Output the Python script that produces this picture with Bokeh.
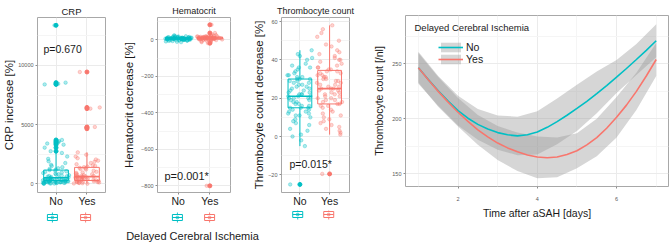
from bokeh.plotting import figure
from bokeh.layouts import row, column
from bokeh.models import ColumnDataSource, FixedTicker, Label, Legend, LegendItem, Range1d
from bokeh.transform import jitter, dodge
from bokeh.embed import file_html
from bokeh.resources import INLINE

FONT = "Liberation Sans"
TEAL = "#00BFC4"
SALMON = "#F8766D"
GRID = "#EBEBEB"
GRID_MINOR = "#F5F5F5"
BORDER = "#A8A8A8"
TICK = "#8C8C8C"
TICKLAB = "#5A5A5A"

groups = ["No", "Yes"]
group_pos = [1, 2]
group_colors = [TEAL, SALMON]

# ---------- CRP increase [%] ----------
crp_no = [13400, 8550, 8450, 8400, 3700, 3600, 3500, 3400, 3300, 3050, 2750, 2600, 2300, 2100,
          1900, 1750, 1600, 1500, 1400, 1300, 1250, 1200, 1150, 1100, 1050, 1000, 950, 900, 850,
          800, 760, 720, 680, 650, 620, 590, 560, 530, 500, 480, 460, 440, 420, 400, 380, 360,
          340, 330, 320, 310, 300, 290, 280, 270, 260, 250, 240, 230, 220, 210, 200, 190, 180,
          170, 160, 150, 140, 130, 120, 110, 100, 90, 80, 70, 60, 50, 40, 30, 20, 10, 0, 0]
crp_yes = [9450, 6450, 6350, 4800, 4750, 4650, 2650, 2450, 2300, 2150, 2050, 1950, 1850, 1750,
           1650, 1550, 1500, 1450, 1400, 1350, 1300, 1250, 1200, 1100, 1000, 950, 900, 850, 800,
           760, 720, 680, 650, 620, 600, 580, 560, 540, 520, 500, 480, 450, 420, 400, 380, 350,
           330, 300, 280, 260, 240, 220, 200, 180, 160, 140, 120, 100, 80, 60, 40, 20, 0]
# box stats: [lower whisker, q1, median, q3, upper whisker]
crp_box_no = [0, 270, 500, 1150, 2600]
crp_box_yes = [0, 270, 600, 1380, 2650]
crp_p = "p=0.670"

# ---------- Hematocrit decrease [%] ----------
hema_no = [25, 22, 20, 19, 18, 17, 16, 15, 15, 14, 14, 13, 13, 12, 12, 12, 11, 11, 11, 10, 10,
           10, 10, 9, 9, 9, 9, 8, 8, 8, 8, 8, 7, 7, 7, 7, 6, 6, 6, 6, 5, 5, 5, 5, 4, 4, 4, 3, 3,
           3, 2, 2, 2, 1, 1, 0, 0, -1, -2, -3, -4, -5, -6, -8, -10, -12]
hema_yes = [83, 38, 30, 27, 25, 23, 22, 21, 20, 19, 18, 17, 17, 16, 16, 15, 15, 14, 14, 13, 13,
            12, 12, 12, 11, 11, 11, 10, 10, 10, 10, 9, 9, 9, 8, 8, 8, 7, 7, 7, 6, 6, 5, 5, 4, 4,
            3, 3, 2, 1, 0, -1, -3, -5, -8, -10, -12, -18, -800]
hema_box_no = [-12, 3, 8, 12, 25]
hema_box_yes = [-12, 5, 11, 16, 30]
hema_p = "p=0.001*"

# ---------- Thrombocyte count decrease [%] ----------
thr_no = [45, 43, 42, 41, 40, 38, 37, 36, 36, 35, 34, 33, 32, 32, 31, 31, 30, 30, 30, 29, 29,
          28, 28, 27, 27, 26, 26, 25, 25, 24, 24, 23, 23, 22, 22, 22, 21, 21, 21, 20, 20, 20, 19,
          19, 18, 18, 17, 17, 16, 16, 15, 15, 15, 14, 14, 13, 13, 12, 12, 11, 11, 10, 9, 8, 7, 6,
          4, 3, 1, 0, -2, -5, -25]
thr_yes = [58, 56, 54, 52, 50, 48, 47, 45, 44, 43, 42, 41, 40, 40, 39, 38, 37, 36, 36, 35, 35,
           34, 34, 33, 33, 32, 32, 31, 31, 30, 30, 29, 29, 28, 28, 27, 27, 26, 26, 25, 25, 25, 24,
           24, 23, 23, 22, 22, 21, 21, 20, 20, 19, 19, 18, 18, 17, 17, 16, 16, 15, 14, 13, 12, 11,
           10, 9, 8, 7, 6, 5, 4, 3, 2, 1, -19.5]
thr_box_no = [-5, 15, 21, 30, 45]
thr_box_yes = [1, 17, 25, 34.5, 58]
thr_p = "p=0.015*"

# ---------- Thrombocyte count over time (loess fits) ----------
fit_days = [1, 1.25, 1.5, 1.75, 2, 2.25, 2.5, 2.75, 3, 3.25, 3.5, 3.75, 4, 4.25, 4.5, 4.75,
            5, 5.25, 5.5, 5.75, 6, 6.25, 6.5, 6.75, 7]
no_fit = [246.5, 235.7, 225.5, 216.1, 207.5, 200.6, 195, 190.8, 187.5, 185.5, 184.5, 185.6,
          188, 192.3, 197.5, 203.3, 209.5, 216, 223, 230.3, 238, 245.8, 254, 262.3, 271]
yes_fit = [246.5, 235.5, 225, 215.2, 206, 197.7, 190, 183.6, 178, 173.6, 170, 167.2, 165.3,
           164.6, 165.3, 167.6, 171, 176.4, 183, 191.5, 201.5, 212.5, 225, 239, 254]
band_days = [1, 1.5, 2, 2.5, 3, 3.5, 4, 4.5, 5, 5.5, 6, 6.5, 7]
no_lo = [232, 212, 194, 181, 172, 167, 167.5, 177, 189, 205, 223.5, 240, 256]
no_hi = [261, 239, 221, 209, 203, 202, 207, 218.5, 231, 243, 253.5, 268, 286]
yes_lo = [233, 211, 193, 176.5, 162.5, 152.5, 146, 147, 155, 166, 183, 208, 239]
yes_hi = [260, 238, 219, 203.5, 193.5, 187.5, 184, 183, 187, 200, 220, 242, 269]


def base_style(p):
    p.outline_line_color = BORDER
    p.outline_line_width = 1
    p.background_fill_color = "white"
    p.border_fill_color = "white"
    for ax in p.axis:
        ax.axis_line_color = None
        ax.major_tick_line_color = TICK
        ax.major_tick_out = 2
        ax.major_tick_in = 0
        ax.minor_tick_line_color = None
        ax.major_label_text_font = FONT
        ax.axis_label_text_font = FONT
        ax.axis_label_text_font_style = "normal"
        ax.axis_label_text_color = "#1A1A1A"
    p.xgrid.grid_line_color = GRID
    p.ygrid.grid_line_color = GRID
    p.ygrid.minor_grid_line_color = GRID_MINOR


def box_panel(W, bl, br, bt, bb, xr, yr, yticks, yminor, ylabel, ylab_standoff,
              title, title_size, title_offset, title_standoff, ptext, p_x, p_y, p_size,
              series, stats, key_y, jit_w):
    x_range = Range1d(*xr)
    p = figure(width=W, height=210, x_range=x_range, y_range=Range1d(*yr),
               output_backend="svg", toolbar_location=None,
               min_border_left=bl, min_border_right=br, min_border_top=bt, min_border_bottom=bb)
    base_style(p)
    p.title.text = title
    p.title.text_font = FONT
    p.title.text_font_size = title_size
    p.title.text_font_style = "normal"
    p.title.text_color = "#1A1A1A"
    p.title.align = "center"
    p.title.offset = title_offset
    p.title.standoff = title_standoff

    p.xgrid.ticker = FixedTicker(ticks=group_pos)
    p.ygrid.ticker = FixedTicker(ticks=yticks, minor_ticks=yminor)
    p.xaxis.ticker = FixedTicker(ticks=group_pos)
    p.xaxis.major_label_overrides = {pos: name for pos, name in zip(group_pos, groups)}
    p.xaxis.major_label_text_font_size = "10.5px"
    p.xaxis.major_label_text_color = "#1A1A1A"
    p.xaxis.major_label_standoff = 0
    p.yaxis.ticker = FixedTicker(ticks=yticks)
    p.yaxis.major_label_text_font_size = "5.5px"
    p.yaxis.major_label_text_color = TICKLAB
    p.yaxis.major_label_standoff = 2
    p.yaxis.axis_label = ylabel
    p.yaxis.axis_label_text_font_size = "11.5px"
    p.yaxis.axis_label_standoff = ylab_standoff

    # legend-key strip (box keys for No / Yes) under the panel
    k = figure(width=W, height=14, x_range=x_range, y_range=Range1d(0, 14),
               output_backend="svg", toolbar_location=None,
               x_axis_location=None, y_axis_location=None,
               min_border_left=bl, min_border_right=br, min_border_top=0, min_border_bottom=0)
    k.outline_line_color = None
    k.grid.visible = False
    k.background_fill_color = "white"
    k.border_fill_color = "white"

    for pos, vals, st, col in zip(group_pos, series, stats, group_colors):
        lo, q1, med, q3, hi = st
        bsrc = ColumnDataSource(dict(x=[pos], lo=[lo], q1=[q1], med=[med], q3=[q3], hi=[hi]))
        p.segment(x0="x", y0="q3", x1="x", y1="hi", source=bsrc, line_color=col, line_width=1)
        p.segment(x0="x", y0="lo", x1="x", y1="q1", source=bsrc, line_color=col, line_width=1)
        p.vbar(x="x", width=0.8, bottom="q1", top="q3", source=bsrc,
               fill_color=None, line_color=col, line_width=1)
        p.segment(x0=dodge("x", -0.4), y0="med", x1=dodge("x", 0.4), y1="med",
                  source=bsrc, line_color=col, line_width=1.6)
        out = [v for v in vals if v < lo or v > hi]
        osrc = ColumnDataSource(dict(x=[pos] * len(out), y=out))
        p.scatter("x", "y", source=osrc, size=4, color=col)
        jsrc = ColumnDataSource(dict(x=[pos] * len(vals), y=vals))
        p.scatter(x=jitter("x", width=jit_w), y="y", source=jsrc, size=3.5,
                  fill_color=col, line_color=col, fill_alpha=0.32, line_alpha=0.32)

        ksrc = ColumnDataSource(dict(x=[pos], y=[key_y]))
        k.rect(x="x", y="y", width=1, height=10, width_units="screen", height_units="screen",
               source=ksrc, fill_color=col, line_color=None, fill_alpha=0.9)
        k.rect(x="x", y="y", width=10, height=6, width_units="screen", height_units="screen",
               source=ksrc, fill_color="white", line_color=col, line_width=1)
        k.rect(x="x", y="y", width=10, height=1.2, width_units="screen", height_units="screen",
               source=ksrc, fill_color=col, line_color=None)
        k.scatter(x="x", y="y", source=ksrc, size=3, fill_color=col, line_color=col,
                  fill_alpha=0.5, line_alpha=0.5)

    p.add_layout(Label(x=p_x, y=p_y, x_units="screen", y_units="screen", text=ptext,
                       text_font=FONT, text_font_size=p_size, text_color="#1A1A1A",
                       text_align="left", text_baseline="middle"))
    return p, k


f1, k1 = box_panel(120, 32, 15, 15, 16, (0.4, 2.6), (-746, 14061), [0, 5000, 10000],
                   [2500, 7500, 12500], "CRP increase [%]", 0,
                   "CRP", "9.5px", 1.5, 2, crp_p, 6, 144, "10.5px",
                   [crp_no, crp_yes], [crp_box_no, crp_box_yes], 7, 0.85)

f2, k2 = box_panel(130, 36, 20, 17, 17, (0.35, 2.65), (-836.6, 123),
                   [-800, -600, -400, -200, 0], [-700, -500, -300, -100, 100],
                   "Hematocrit decrease [%]", 3,
                   "Hematocrit", "9px", 0, 4, hema_p, 7, 17, "11px",
                   [hema_no, hema_yes], [hema_box_no, hema_box_yes], 7, 0.85)

f3, k3 = box_panel(120, 28, 21, 17, 18, (0.38, 2.67), (-29.2, 62.1),
                   [-20, 0, 20, 40, 60], [-10, 10, 30, 50],
                   "Thrombocyte count decrease [%]", 0,
                   "Thrombocyte count", "9px", -3, 4, thr_p, 8, 29, "10.5px",
                   [thr_no, thr_yes], [thr_box_no, thr_box_yes], 10, 0.85)

# bottom shared caption strip
f5 = figure(width=370, height=20, x_range=Range1d(0, 1), y_range=Range1d(0, 1),
            output_backend="svg", toolbar_location=None,
            x_axis_location=None, y_axis_location=None,
            min_border_left=0, min_border_right=0, min_border_top=0, min_border_bottom=0)
f5.outline_line_color = None
f5.grid.visible = False
f5.add_layout(Label(x=192, y=9, x_units="screen", y_units="screen",
                    text="Delayed Cerebral Ischemia", text_font=FONT,
                    text_font_size="11px", text_color="#1A1A1A",
                    text_align="center", text_baseline="middle"))

# ---------- right panel ----------
f4 = figure(width=299, height=244, x_range=Range1d(0.675, 7.31), y_range=Range1d(138.5, 294),
            output_backend="svg", toolbar_location=None,
            min_border_left=33, min_border_right=1, min_border_top=15, min_border_bottom=58)
base_style(f4)
f4.xgrid.ticker = FixedTicker(ticks=[2, 4, 6], minor_ticks=[1, 3, 5, 7])
f4.xgrid.minor_grid_line_color = GRID_MINOR
f4.ygrid.ticker = FixedTicker(ticks=[150, 200, 250], minor_ticks=[175, 225, 275])
f4.xaxis.ticker = FixedTicker(ticks=[2, 4, 6])
f4.yaxis.ticker = FixedTicker(ticks=[150, 200, 250])
for ax in f4.axis:
    ax.major_label_text_font_size = "5.5px"
    ax.major_label_text_color = TICKLAB
    ax.axis_label_text_font_size = "10.5px"
f4.xaxis.major_label_standoff = 8
f4.xaxis.axis_label = "Time after aSAH [days]"
f4.xaxis.axis_label_standoff = 3
f4.yaxis.major_label_standoff = 2
f4.yaxis.axis_label = "Thrombocyte count [/nl]"
f4.yaxis.axis_label_standoff = 4

band_no = ColumnDataSource(dict(x=band_days, lo=no_lo, hi=no_hi))
band_yes = ColumnDataSource(dict(x=band_days, lo=yes_lo, hi=yes_hi))
fit_src = ColumnDataSource(dict(x=fit_days, no=no_fit, yes=yes_fit))
b_no = f4.varea(x="x", y1="lo", y2="hi", source=band_no, fill_color="#999999", fill_alpha=0.4)
b_yes = f4.varea(x="x", y1="lo", y2="hi", source=band_yes, fill_color="#999999", fill_alpha=0.4)
l_no = f4.line("x", "no", source=fit_src, line_color=TEAL, line_width=1.6)
l_yes = f4.line("x", "yes", source=fit_src, line_color=SALMON, line_width=1.6)

leg4 = Legend(items=[LegendItem(label=groups[0], renderers=[b_no, l_no]),
                     LegendItem(label=groups[1], renderers=[b_yes, l_yes])],
              location=(33, 121), orientation="vertical",
              glyph_width=25, glyph_height=12, label_standoff=3, label_height=0,
              spacing=0, padding=0, margin=0,
              background_fill_alpha=0, border_line_alpha=0,
              label_text_font=FONT, label_text_font_size="10.5px", label_text_color="#1A1A1A")
f4.add_layout(leg4)
f4.add_layout(Label(x=9, y=159, x_units="screen", y_units="screen",
                    text="Delayed Cerebral Ischemia", text_font=FONT,
                    text_font_size="9.5px", text_color="#1A1A1A",
                    text_align="left", text_baseline="middle"))

page = row(column(row(f1, f2, f3), row(k1, k2, k3), f5), f4)
open("out.html", "w").write(file_html(page, INLINE))
